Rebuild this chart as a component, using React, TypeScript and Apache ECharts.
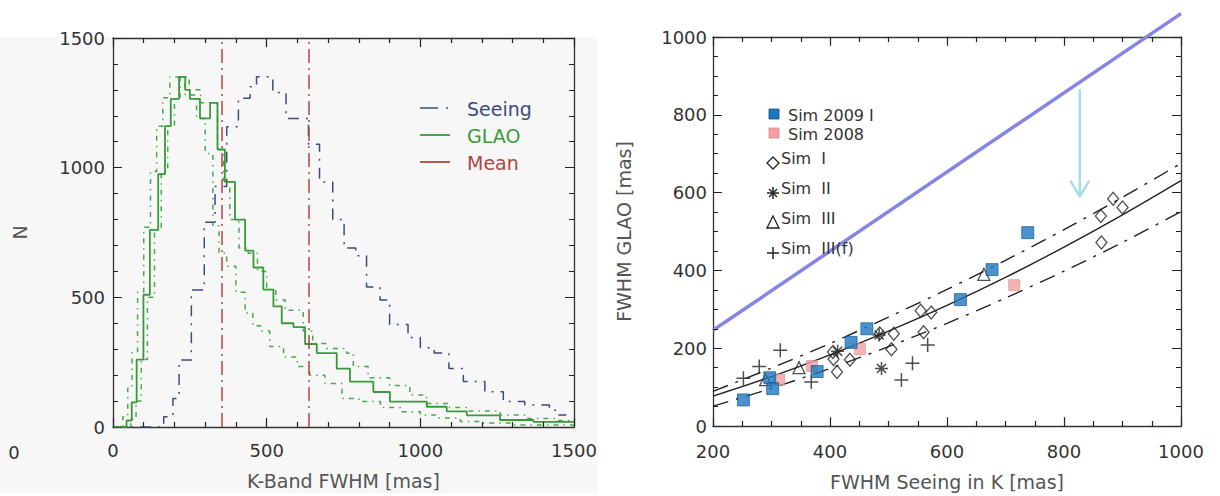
import React, { useEffect, useRef } from 'react';
import * as echarts from 'echarts';

// ---------- Left panel: K-band FWHM histograms ----------
const seeingEdges = [0,165,195,215,255,297,332,370,408,446,467,520,563,636,672,715,752,790,825,869,900,960,1000,1045,1093,1140,1210,1270,1340,1420,1450,1475];
const seeingCounts = [0,40,110,258,528,790,927,1158,1268,1312,1351,1290,1190,1090,945,800,690,660,540,490,395,345,306,285,226,175,136,98,85,65,46];

const glaoEdges = [0,44,61,77,99,120,147,169,188,215,235,250,283,316,340,364,397,430,457,489,522,549,587,625,663,728,771,847,901,1021,1086,1151,1259,1368,1500];
const glaoCounts = [0,25,95,260,510,760,975,1160,1265,1350,1300,1265,1190,1250,1070,945,800,680,615,530,465,400,385,320,285,225,175,135,98,78,60,45,27,20];

const glaoLowEdges = [0,32,48,62,80,100,122,142,162,185,235,272,300,325,345,370,400,430,455,480,510,555,600,640,690,745,800,870,935,1000,1060,1130,1195,1300,1500];
const glaoLowCounts = [0,40,150,290,520,770,985,1160,1270,1350,1280,1190,1055,775,670,620,520,440,390,370,310,270,233,200,168,110,98,75,59,46,35,21,15,8];

const glaoHighEdges = [0,58,75,92,112,135,157,178,200,218,248,285,340,360,380,410,440,470,500,530,560,619,650,695,760,782,830,900,966,1020,1090,1150,1260,1350,1450,1500];
const glaoHighCounts = [0,30,100,260,500,760,985,1160,1265,1350,1300,1250,1070,950,800,690,670,600,530,490,450,370,322,303,284,233,190,160,123,91,75,62,46,33,25];

const meanValues = [353, 636];

const leftXTicks = { min: 0, max: 1500, interval: 500, minor: 100 };
const leftYTicks = { min: 0, max: 1500, interval: 500, minor: 100 };

// ---------- Right panel: FWHM GLAO vs seeing ----------
const sim2009I = [[252,67],[297,124],[302,96],[378,140],[436,215],[463,250],[623,325],[677,402],[738,497]];
const sim2008 = [[313,119],[369,154],[451,198],[715,362]];
const simI = [[412,139],[434,170],[406,172],[405,190],[505,197],[509,237],[560,241],[555,296],[573,292],[485,238],[864,472],[863,540],[884,584],[900,562]];
const simII = [[488,148],[413,192],[484,234]];
const simIII = [[290,119],[347,150],[663,390]];
const simIIIf = [[252,123],[279,153],[315,195],[368,113],[522,118],[541,161],[567,208]];

const fitX = [200,300,400,500,600,700,800,900,1000];
const fitMid = [77,127,183,244,310,382,460,543,631];
const fitUpper = [89,149,212,280,351,426,505,588,675];
const fitLower = [51,97,148,204,264,329,398,472,551];

const oneToOne = [[200,246],[1000,1060]];
const arrowShaft = [[827,866],[827,592]];
const arrowHead = [[811,630],[827,590],[843,630]];

const rightXTicks = { min: 200, max: 1000, interval: 200, minor: 50 };
const rightYTicks = { min: 0, max: 1000, interval: 200, minor: 50 };

const FONT = 'DejaVu Sans';

const LEFT_GRID = { left: 113, top: 38, width: 461, height: 389 };
const RIGHT_GRID = { left: 713, top: 37, width: 468, height: 395 };

function histPoints(edges: number[], counts: number[]) {
  const pts: number[][] = [];
  for (let i = 0; i < counts.length; i++) {
    pts.push([edges[i], counts[i]]);
    pts.push([edges[i + 1], counts[i]]);
  }
  return pts;
}

function zipXY(xs: number[], ys: number[]) {
  return xs.map((x, i) => [x, ys[i]]);
}

function tickValues(r: any) {
  const out: { v: number; major: boolean }[] = [];
  const n = Math.round((r.max - r.min) / r.minor);
  const per = Math.round(r.interval / r.minor);
  for (let i = 0; i <= n; i++) out.push({ v: r.min + i * r.minor, major: i % per === 0 });
  return out;
}

// frame tick segments (in data space) for all four sides of a plot
function frameTicks(xr: any, yr: any, grid: any) {
  const segs: any[] = [];
  const dxPerPx = (xr.max - xr.min) / grid.width;
  const dyPerPx = (yr.max - yr.min) / grid.height;
  tickValues(xr).forEach(({ v, major }) => {
    const len = (major ? 9 : 5) * dyPerPx;
    segs.push({ coords: [[v, yr.min], [v, yr.min + len]] });
    segs.push({ coords: [[v, yr.max], [v, yr.max - len]] });
  });
  tickValues(yr).forEach(({ v, major }) => {
    const len = (major ? 9 : 5) * dxPerPx;
    segs.push({ coords: [[xr.min, v], [xr.min + len, v]] });
    segs.push({ coords: [[xr.max, v], [xr.max - len, v]] });
  });
  return segs;
}

const plainNumber = (v: number) => String(v);

function makeAxis(grid: number, range: any, position: string, labels: boolean, extra: any = {}, labelMargin = 8) {
  return {
    gridIndex: grid,
    type: 'value',
    position,
    min: range.min,
    max: range.max,
    interval: range.interval,
    axisLine: { show: true, onZero: false, lineStyle: { color: '#333', width: 1.3 } },
    axisTick: { show: false },
    splitLine: { show: false },
    axisLabel: { show: labels, fontFamily: FONT, fontSize: 18, color: '#333', margin: labelMargin, formatter: plainNumber },
    ...extra,
  };
}

const nameStyle = { fontFamily: FONT, fontSize: 19, color: '#555' };

export default function App() {
  const ref = useRef<HTMLDivElement>(null);
  useEffect(() => {
    if (!ref.current) return;
    const chart = echarts.init(ref.current, undefined, { renderer: 'svg' });

    const leftLine = (data: number[][], color: string, width: number, type: any, z = 3) => ({
      type: 'line', xAxisIndex: 0, yAxisIndex: 0, data, showSymbol: false, symbol: 'none',
      lineStyle: { color, width, type }, z, silent: true,
    });
    const rightLine = (data: number[][], color: string, width: number, type: any, extra: any = {}) => ({
      type: 'line', xAxisIndex: 2, yAxisIndex: 2, data, showSymbol: false, symbol: 'none',
      lineStyle: { color, width, type }, silent: true, ...extra,
    });
    const rightScatter = (name: string, data: number[][], symbol: string, size: any, itemStyle: any) => ({
      type: 'scatter', name, xAxisIndex: 2, yAxisIndex: 2, data, symbol, symbolSize: size, itemStyle, z: 5,
    });
    const tickLines = (axisIndex: number, xr: any, yr: any, grid: any) => ({
      type: 'lines', coordinateSystem: 'cartesian2d', xAxisIndex: axisIndex, yAxisIndex: axisIndex,
      data: frameTicks(xr, yr, grid), silent: true, z: 6,
      lineStyle: { color: '#222', width: 1.2, opacity: 1, curveness: 0 },
      effect: { show: false },
    });

    const open = { color: 'rgba(255,255,255,0)', borderColor: '#222', borderWidth: 1.3 };
    const stroke = { color: 'none', borderColor: '#222', borderWidth: 1.5 };

    const asterisk = 'path://M5,0L5,10M0,5L10,5M1.5,1.5L8.5,8.5M1.5,8.5L8.5,1.5';
    const plus = 'path://M5,0L5,10M0,5L10,5';

    const legendText = (text: string, x: number, y: number, fill: string, size: number) => ({
      type: 'text', x, y, style: { text, fill, font: `${size}px "${FONT}"`, verticalAlign: 'middle' }, z: 20,
    });
    const seg = (x1: number, y1: number, x2: number, y2: number, stroke: string, lineWidth: number) => ({
      type: 'line', shape: { x1, y1, x2, y2 }, style: { stroke, lineWidth }, z: 20,
    });

    chart.setOption({
      animation: false,
      grid: [LEFT_GRID, RIGHT_GRID],
      xAxis: [
        makeAxis(0, leftXTicks, 'bottom', true, {
          name: 'K-Band FWHM [mas]', nameLocation: 'middle', nameGap: 44, nameTextStyle: nameStyle,
        }, 14),
        makeAxis(0, leftXTicks, 'top', false),
        makeAxis(1, rightXTicks, 'bottom', true, {
          name: 'FWHM Seeing in K [mas]', nameLocation: 'middle', nameGap: 46, nameTextStyle: nameStyle,
        }, 16),
        makeAxis(1, rightXTicks, 'top', false),
      ],
      yAxis: [
        makeAxis(0, leftYTicks, 'left', true, {
          name: 'N', nameLocation: 'middle', nameGap: 84, nameTextStyle: nameStyle,
        }, 8),
        makeAxis(0, leftYTicks, 'right', false),
        makeAxis(1, rightYTicks, 'left', true, {
          name: 'FWHM GLAO [mas]', nameLocation: 'middle', nameGap: 80, nameTextStyle: nameStyle,
        }, 6),
        makeAxis(1, rightYTicks, 'right', false),
      ],
      graphic: [
        { type: 'text', x: 14, y: 452, style: { text: '0', fill: '#333', font: `18px "${FONT}"`, align: 'center', verticalAlign: 'middle' }, z: 20 },
        // left legend
        seg(420, 108, 438, 108, '#3d4b7c', 1.5),
        seg(446, 108, 448, 108, '#3d4b7c', 1.5),
        legendText('Seeing', 467, 109, '#3d4b7c', 19),
        seg(420, 135, 450, 135, '#3a9a3a', 1.8),
        legendText('GLAO', 467, 136, '#3a9a3a', 19),
        seg(420, 162, 450, 162, '#b04545', 1.8),
        legendText('Mean', 467, 163, '#b04545', 19),
        // right legend
        { type: 'rect', shape: { x: 769, y: 109, width: 10, height: 10 }, style: { fill: '#1f77c0', stroke: '#0d4f8a', lineWidth: 0.8 }, z: 20 },
        legendText('Sim 2009 I', 788, 115, '#333', 16),
        { type: 'rect', shape: { x: 769, y: 128, width: 10, height: 10 }, style: { fill: '#f2a0a0', stroke: '#d88', lineWidth: 0.8 }, z: 20 },
        legendText('Sim 2008', 788, 134, '#333', 16),
        { type: 'polygon', shape: { points: [[773, 157], [779, 163], [773, 169], [767, 163]] }, style: { fill: 'none', stroke: '#222', lineWidth: 1.3 }, z: 20 },
        legendText('Sim  I', 781, 158, '#333', 16),
        seg(773, 187, 773, 199, '#222', 1.5),
        seg(767, 193, 779, 193, '#222', 1.5),
        seg(769, 189, 777, 197, '#222', 1.5),
        seg(769, 197, 777, 189, '#222', 1.5),
        legendText('Sim  II', 781, 188, '#333', 16),
        { type: 'polygon', shape: { points: [[773, 216], [779, 228], [767, 228]] }, style: { fill: 'none', stroke: '#222', lineWidth: 1.3 }, z: 20 },
        legendText('Sim  III', 781, 218, '#333', 16),
        seg(773, 247, 773, 259, '#222', 1.5),
        seg(767, 253, 779, 253, '#222', 1.5),
        legendText('Sim  III(f)', 781, 248, '#333', 16),
      ],
      series: [
        tickLines(0, leftXTicks, leftYTicks, LEFT_GRID),
        tickLines(2, rightXTicks, rightYTicks, RIGHT_GRID),
        leftLine(histPoints(seeingEdges, seeingCounts), '#3d4b7c', 1.5, [11, 7, 2, 7]),
        leftLine(histPoints(glaoLowEdges, glaoLowCounts), '#48a84c', 1.5, [5, 5, 1.5, 5]),
        leftLine(histPoints(glaoHighEdges, glaoHighCounts), '#48a84c', 1.5, [5, 5, 1.5, 5]),
        {
          ...leftLine(histPoints(glaoEdges, glaoCounts), '#3a9a3a', 1.8, 'solid', 4),
          markLine: {
            silent: true,
            symbol: ['none', 'none'],
            label: { show: false },
            lineStyle: { color: '#b04545', width: 1.5, type: [14, 5, 2, 5] },
            data: meanValues.map((v) => ({ xAxis: v })),
          },
        },
        rightLine(oneToOne, '#8585e6', 3.5, 'solid', { clip: false, z: 3 }),
        rightLine(arrowShaft, '#a6dfe3', 2.5, 'solid', { z: 3 }),
        rightLine(arrowHead, '#a6dfe3', 2.5, 'solid', { z: 3 }),
        rightLine(zipXY(fitX, fitUpper), '#222', 1.4, [16, 8, 3, 8], { smooth: 0.3, z: 3 }),
        rightLine(zipXY(fitX, fitMid), '#222', 1.4, 'solid', { smooth: 0.3, z: 3 }),
        rightLine(zipXY(fitX, fitLower), '#222', 1.4, [16, 8, 3, 8], { smooth: 0.3, z: 3 }),
        rightScatter('Sim I', simI, 'diamond', [11, 13], open),
        rightScatter('Sim II', simII, asterisk, 13, stroke),
        rightScatter('Sim III', simIII, 'triangle', 12, open),
        rightScatter('Sim III(f)', simIIIf, plus, 14, stroke),
        rightScatter('Sim 2008', sim2008, 'rect', 11, { color: '#f2a0a0', borderColor: '#d88', borderWidth: 0.8 }),
        rightScatter('Sim 2009 I', sim2009I, 'rect', 12, { color: '#1f77c0', borderColor: '#0d4f8a', borderWidth: 0.8 }),
      ],
    });
    return () => chart.dispose();
  }, []);
  return (
    <div style={{ position: 'fixed', left: 0, top: 0, width: 1220, height: 496, background: '#ffffff' }}>
      <div style={{ position: 'absolute', left: 0, top: 37, width: 598, height: 456, background: '#f7f7f7' }} />
      <div ref={ref} style={{ position: 'absolute', left: 0, top: 0, width: 1220, height: 496 }} />
    </div>
  );
}
